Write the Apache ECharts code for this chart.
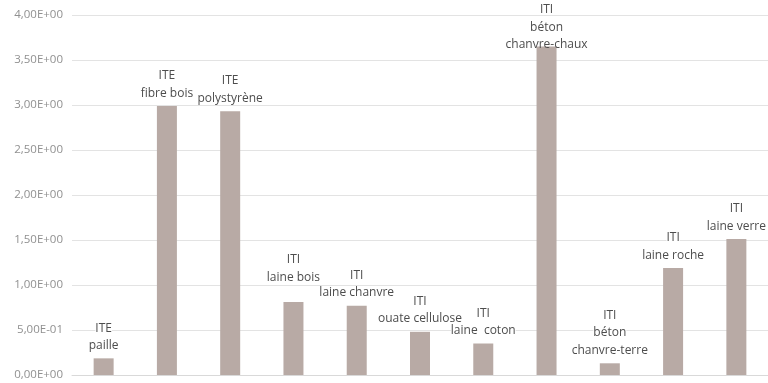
<!DOCTYPE html>
<html>
<head>
<meta charset="utf-8">
<script src="https://cdn.jsdelivr.net/npm/echarts@6/dist/echarts.min.js"></script>
<style>
  html, body { margin: 0; padding: 0; background: #ffffff; }
  #chart { width: 768px; height: 383px; }
</style>
</head>
<body>
<div id="chart"></div>
<script>
// Isolation systems, top line = technique, bottom lines = material
const categories = [
  'ITE\npaille',
  'ITE\nfibre bois',
  'ITE\npolystyrène',
  'ITI\nlaine bois',
  'ITI\nlaine chanvre',
  'ITI\nouate cellulose',
  'ITI\nlaine  coton',
  'ITI\nbéton\nchanvre-chaux',
  'ITI\nbéton\nchanvre-terre',
  'ITI\nlaine roche',
  'ITI\nlaine verre'
];
const values = [0.185, 2.99, 2.93, 0.81, 0.77, 0.48, 0.35, 3.65, 0.13, 1.19, 1.51];
const yTickLabels = ['0,00E+00', '5,00E-01', '1,00E+00', '1,50E+00', '2,00E+00',
                     '2,50E+00', '3,00E+00', '3,50E+00', '4,00E+00'];
// vertical shift of each bar label (px, negative = up)
const labelShift = [0, 0, 0, -12, 0, 0, 0, 11, 0, 0, 0];

const chart = echarts.init(document.getElementById('chart'), null, { renderer: 'canvas' });

const lineStyle = {
  color: '#4d4d4d',
  fontFamily: 'Open Sans',
  fontSize: 12,
  lineHeight: 17.5
};

chart.setOption({
  animation: false,
  backgroundColor: '#ffffff',
  grid: { left: 72, top: 15, width: 702, height: 360, containLabel: false },
  xAxis: {
    type: 'category',
    data: categories,
    axisLine: { show: true, lineStyle: { color: '#d9d9d9', width: 1 } },
    axisTick: { show: false },
    axisLabel: { show: false }
  },
  yAxis: {
    type: 'value',
    min: 0,
    max: 4,
    interval: 0.5,
    axisLine: { show: false },
    axisTick: { show: false },
    splitLine: { lineStyle: { color: '#e3e3e3', width: 1 } },
    axisLabel: {
      margin: 9,
      color: '#909090',
      fontFamily: 'Open Sans',
      fontSize: 11.5,
      formatter: function (v) { return yTickLabels[Math.round(v / 0.5)]; }
    }
  },
  series: [{
    type: 'bar',
    barWidth: 20,
    itemStyle: { color: '#b8aaa5' },
    data: values.map(function (v, i) {
      return {
        value: v,
        label: { offset: [0, labelShift[i]] }
      };
    }),
    label: {
      show: true,
      position: 'top',
      distance: 4,
      align: 'center',
      color: '#4d4d4d',
      fontFamily: 'Open Sans',
      fontSize: 12,
      lineHeight: 17.5,
      // each line gets its own white backing so neighbours don't clip each other
      formatter: function (p) {
        const tag = p.dataIndex === 7 ? 'n' : 't';
        return categories[p.dataIndex].split('\n').map(function (s) {
          return '{' + tag + '|' + s + '}';
        }).join('\n');
      },
      rich: {
        t: Object.assign({ backgroundColor: '#ffffff' }, lineStyle),
        n: Object.assign({}, lineStyle)
      }
    }
  }]
});
</script>
</body>
</html>
